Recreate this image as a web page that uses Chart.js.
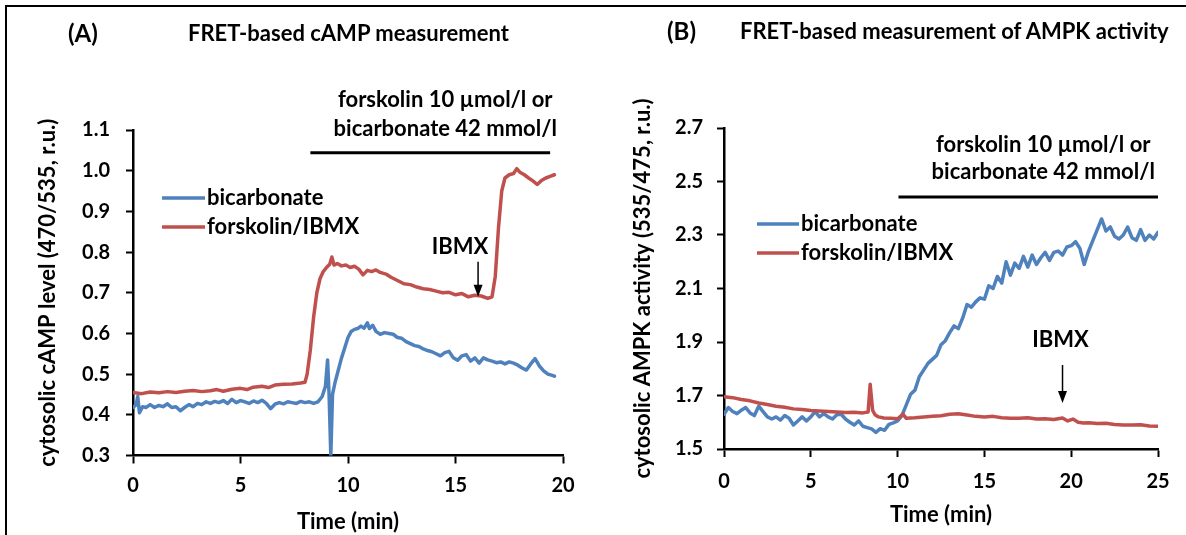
<!DOCTYPE html>
<html>
<head>
<meta charset="utf-8">
<title>FRET: cAMP and AMPK activity</title>
<script src="https://cdn.jsdelivr.net/npm/chart.js@4.4.1/dist/chart.umd.min.js"></script>
<style>
  html, body { margin: 0; padding: 0; background: #fff; }
  #page { position: relative; width: 1186px; height: 535px; overflow: hidden; font-family: Lato, sans-serif; color: #000; }
  .frame { position: absolute; left: 5px; top: 5px; right: -10px; bottom: -10px; border-left: 2.5px solid #000; border-top: 2.5px solid #000; }
  canvas { position: absolute; top: 0; }
  #chartA { left: 0; }
  #chartB { left: 600px; }
  .tag, .heading { position: absolute; font-weight: 700; white-space: nowrap; line-height: 1; }
  .tag { font-size: 24px; }
  .heading { font-size: 22px; }
</style>
</head>
<body>
<div id="page">
  <div class="frame"></div>
  <canvas id="chartA" width="600" height="535"></canvas>
  <canvas id="chartB" width="586" height="535"></canvas>
  <div class="tag" style="left:68px;top:21px">(A)</div>
  <div class="heading" style="left:188px;top:22px">FRET-based cAMP measurement</div>
  <div class="tag" style="left:667px;top:19px">(B)</div>
  <div class="heading" style="left:740px;top:20px">FRET-based measurement of AMPK activity</div>
</div>
<script>
// --- (A) cytosolic cAMP, 470/535 ratio ---
const timeA_bic = [
  0, 0.15, 0.22, 0.3, 0.45, 0.6, 0.8, 1.0, 1.2, 1.4,
  1.6, 1.8, 2.0, 2.2, 2.4, 2.6, 2.8, 3.0, 3.2, 3.4,
  3.6, 3.8, 4.0, 4.2, 4.4, 4.6, 4.8, 5.0, 5.2, 5.4,
  5.6, 5.8, 6.0, 6.2, 6.4, 6.6, 6.8, 7.0, 7.2, 7.4,
  7.6, 7.8, 8.0, 8.2, 8.4, 8.6, 8.8, 8.95, 9.05, 9.12,
  9.2, 9.28, 9.4, 9.55, 9.7, 9.85, 10.0, 10.15, 10.3, 10.45,
  10.6, 10.75, 10.9, 11.0, 11.15, 11.3, 11.5, 11.7, 11.9, 12.1,
  12.3, 12.5, 12.7, 12.9, 13.1, 13.3, 13.5, 13.7, 13.9, 14.1,
  14.3, 14.5, 14.7, 14.9, 15.1, 15.3, 15.5, 15.7, 15.9, 16.1,
  16.3, 16.5, 16.7, 16.9, 17.1, 17.3, 17.5, 17.7, 17.9, 18.1,
  18.3, 18.5, 18.7, 18.9, 19.1, 19.3, 19.5, 19.6
];
const cAMP_bic = [
  0.418, 0.425, 0.445, 0.405, 0.42, 0.418, 0.425, 0.418, 0.423, 0.42,
  0.427, 0.418, 0.42, 0.41, 0.418, 0.425, 0.42, 0.428, 0.425, 0.432,
  0.428, 0.433, 0.43, 0.435, 0.428, 0.438, 0.43, 0.435, 0.432, 0.428,
  0.434, 0.43, 0.436, 0.428, 0.415, 0.426, 0.43, 0.427, 0.432, 0.43,
  0.428, 0.433, 0.43, 0.432, 0.428, 0.432, 0.445, 0.47, 0.535, 0.45,
  0.3, 0.45, 0.48, 0.51, 0.54, 0.565, 0.59, 0.605, 0.61, 0.612,
  0.618, 0.613, 0.626, 0.612, 0.62, 0.605, 0.598, 0.602, 0.6, 0.598,
  0.59, 0.588, 0.58, 0.575, 0.57, 0.568, 0.562, 0.558, 0.555, 0.55,
  0.545, 0.553, 0.556, 0.54, 0.534, 0.545, 0.548, 0.532, 0.54, 0.527,
  0.54, 0.535, 0.532, 0.528, 0.53, 0.525, 0.53, 0.527, 0.522, 0.515,
  0.51, 0.525, 0.538, 0.52, 0.508, 0.5, 0.497, 0.495
];
const timeA_fsk = [
  0, 0.4, 0.8, 1.2, 1.6, 2.0, 2.4, 2.8, 3.2, 3.6,
  3.9, 4.2, 4.6, 5.0, 5.3, 5.6, 6.0, 6.3, 6.6, 7.0,
  7.4, 7.8, 8.0, 8.1, 8.25, 8.4, 8.55, 8.7, 8.85, 9.0,
  9.15, 9.25, 9.35, 9.5, 9.7, 9.9, 10.1, 10.3, 10.5, 10.7,
  10.9, 11.1, 11.3, 11.5, 11.8, 12.0, 12.3, 12.6, 12.9, 13.2,
  13.5, 13.8, 14.1, 14.4, 14.7, 15.0, 15.3, 15.6, 15.9, 16.2,
  16.5, 16.7, 16.85, 17.0, 17.15, 17.3, 17.5, 17.7, 17.85, 18.0,
  18.2, 18.4, 18.6, 18.8, 19.0, 19.2, 19.4, 19.6
];
const cAMP_fsk = [
  0.455, 0.452, 0.456, 0.454, 0.457, 0.455, 0.458, 0.46, 0.457, 0.459,
  0.462, 0.458, 0.463, 0.465, 0.462, 0.468, 0.47, 0.467, 0.473, 0.475,
  0.476, 0.478, 0.48, 0.5, 0.56, 0.64, 0.7, 0.735, 0.752, 0.762,
  0.77, 0.788, 0.768, 0.772, 0.766, 0.768, 0.762, 0.765, 0.758, 0.744,
  0.755, 0.752, 0.756, 0.75, 0.745, 0.738, 0.73, 0.722, 0.72, 0.714,
  0.71, 0.708, 0.704, 0.7, 0.701, 0.695, 0.698, 0.69, 0.694, 0.692,
  0.686, 0.69, 0.74, 0.86, 0.95, 0.982, 0.99, 0.993, 1.005, 0.996,
  0.99, 0.982, 0.975, 0.966, 0.976, 0.982, 0.986, 0.99
];

// --- (B) cytosolic AMPK activity, 535/475 ratio ---
const timeB_bic = [
  0, 0.25, 0.5, 0.75, 1, 1.25, 1.5, 1.75, 2, 2.25,
  2.5, 2.75, 3, 3.25, 3.5, 3.75, 4, 4.25, 4.5, 4.75,
  5, 5.25, 5.5, 5.75, 6, 6.25, 6.5, 6.75, 7, 7.25,
  7.5, 7.75, 8, 8.25, 8.5, 8.75, 9, 9.25, 9.5, 9.75,
  10, 10.25, 10.5, 10.75, 11, 11.25, 11.5, 11.75, 12, 12.25,
  12.5, 12.75, 13, 13.25, 13.5, 13.75, 14, 14.25, 14.5, 14.75,
  15, 15.25, 15.5, 15.75, 16, 16.25, 16.5, 16.75, 17, 17.25,
  17.5, 17.75, 18, 18.25, 18.5, 18.75, 19, 19.25, 19.5, 19.75,
  20, 20.25, 20.5, 20.75, 21, 21.25, 21.5, 21.75, 22, 22.25,
  22.5, 22.75, 23, 23.25, 23.5, 23.75, 24, 24.25, 24.5, 24.75,
  25
];
const ampk_bic = [
  1.63, 1.655, 1.64, 1.632, 1.645, 1.655, 1.635, 1.625, 1.66, 1.64,
  1.62, 1.612, 1.62, 1.608, 1.625, 1.615, 1.59, 1.605, 1.62, 1.605,
  1.62, 1.64, 1.62, 1.632, 1.62, 1.612, 1.628, 1.63, 1.612, 1.6,
  1.59, 1.605, 1.585, 1.58, 1.575, 1.562, 1.576, 1.57, 1.592, 1.598,
  1.605, 1.625, 1.665, 1.705, 1.72, 1.77, 1.795, 1.82, 1.835, 1.85,
  1.89, 1.905, 1.935, 1.96, 1.95, 1.99, 2.04, 2.03, 2.05, 2.065,
  2.06, 2.11, 2.1, 2.145, 2.12, 2.2, 2.15, 2.195, 2.175, 2.22,
  2.18, 2.225, 2.19, 2.215, 2.235, 2.205, 2.235, 2.24, 2.225, 2.255,
  2.26, 2.275, 2.25, 2.19, 2.24, 2.28, 2.32, 2.36, 2.315, 2.33,
  2.295, 2.285, 2.3, 2.33, 2.29, 2.28, 2.32, 2.28, 2.3, 2.285,
  2.31
];
const timeB_fsk = [
  0, 0.5, 1.0, 1.5, 2.0, 2.5, 3.0, 3.5, 4.0, 4.5,
  5.0, 5.5, 6.0, 6.5, 7.0, 7.5, 8.0, 8.3, 8.42, 8.48,
  8.56, 8.7, 8.9, 9.2, 9.6, 10.0, 10.3, 10.5, 11.0, 11.5,
  12.0, 12.5, 13.0, 13.5, 14.0, 14.5, 15.0, 15.5, 16.0, 16.5,
  17.0, 17.5, 18.0, 18.5, 19.0, 19.5, 19.8, 20.1, 20.4, 20.7,
  21.0, 21.5, 22.0, 22.5, 23.0, 23.5, 24.0, 24.5, 25.0
];
const ampk_fsk = [
  1.695, 1.692, 1.685, 1.68, 1.672, 1.666, 1.66, 1.656, 1.65, 1.648,
  1.644, 1.642, 1.64, 1.638, 1.636, 1.637, 1.635, 1.638, 1.742, 1.7,
  1.645, 1.628, 1.62, 1.616, 1.615, 1.613, 1.63, 1.615, 1.617, 1.62,
  1.622, 1.624, 1.63, 1.632, 1.627, 1.622, 1.62, 1.622, 1.617, 1.615,
  1.615, 1.617, 1.612, 1.613, 1.61, 1.616, 1.605, 1.612, 1.6, 1.597,
  1.598, 1.595, 1.596, 1.592, 1.59, 1.59, 1.591, 1.586, 1.585
];

const seriesLabels = ['bicarbonate', 'forskolin/IBMX'];
const treatmentLines = ['forskolin 10 \u00b5mol/l or', 'bicarbonate 42 mmol/l'];

const BLUE = '#4f81bd';
const RED = '#c0504d';
const TICK_FONT = { family: 'Lato', size: 20, weight: 'bold' };
const AXIS_FONT = { family: 'Lato', size: 22, weight: 'bold' };
const NOTE_FONT = 'bold 22px Lato';

const toPoints = (xs, ys) => xs.map((t, i) => ({ x: t, y: ys[i] }));

// treatment bar, IBMX arrow and the in-plot legend
const notesPlugin = {
  id: 'notes',
  afterDatasetsDraw(chart, args, opts) {
    const { ctx, chartArea: area, scales: { x, y } } = chart;
    ctx.save();
    ctx.fillStyle = '#000';
    ctx.strokeStyle = '#000';
    ctx.font = NOTE_FONT;
    ctx.textAlign = 'center';
    ctx.textBaseline = 'middle';

    const t = opts.treatment;
    const x1 = x.getPixelForValue(t.from);
    const x2 = x.getPixelForValue(t.to);
    const yb = y.getPixelForValue(t.level);
    ctx.lineWidth = 3;
    ctx.beginPath();
    ctx.moveTo(x1, yb);
    ctx.lineTo(x2, yb);
    ctx.stroke();
    treatmentLines.forEach((line, i) => {
      ctx.fillText(line, (x1 + x2) / 2 + t.textShift, yb + t.textOffsets[i]);
    });

    const a = opts.arrow;
    const ax = x.getPixelForValue(a.at);
    const yTop = y.getPixelForValue(a.from);
    const yTip = y.getPixelForValue(a.to);
    ctx.lineWidth = 1.5;
    ctx.beginPath();
    ctx.moveTo(ax, yTop);
    ctx.lineTo(ax, yTip - 8);
    ctx.stroke();
    ctx.beginPath();
    ctx.moveTo(ax - 4.5, yTip - 12);
    ctx.lineTo(ax + 4.5, yTip - 12);
    ctx.lineTo(ax, yTip);
    ctx.closePath();
    ctx.fill();
    ctx.fillText('IBMX', ax + a.labelDx, yTop + a.labelDy);

    const lg = opts.legend;
    ctx.textAlign = 'left';
    chart.data.datasets.forEach((ds, i) => {
      const ly = area.top + lg.top + i * lg.rowGap;
      const lx = area.left + lg.left;
      ctx.strokeStyle = ds.borderColor;
      ctx.lineWidth = 3.5;
      ctx.beginPath();
      ctx.moveTo(lx, ly);
      ctx.lineTo(lx + lg.swatch, ly);
      ctx.stroke();
      ctx.fillStyle = '#000';
      ctx.fillText(ds.label, lx + lg.swatch + 2, ly);
    });
    ctx.restore();
  }
};

function buildPanel(canvasId, p) {
  return new Chart(document.getElementById(canvasId), {
    type: 'line',
    data: {
      datasets: [
        { label: seriesLabels[0], data: toPoints(p.bicT, p.bicV), borderColor: BLUE, order: 1 },
        { label: seriesLabels[1], data: toPoints(p.fskT, p.fskV), borderColor: RED, order: 0 }
      ]
    },
    options: {
      responsive: false,
      animation: false,
      devicePixelRatio: 1,
      layout: { padding: p.padding },
      elements: {
        line: { borderWidth: 3.5, tension: 0, borderJoinStyle: 'round', borderCapStyle: 'round' },
        point: { radius: 0, hoverRadius: 0 }
      },
      plugins: {
        legend: { display: false },
        tooltip: { enabled: false },
        notes: p.notes
      },
      scales: {
        x: {
          type: 'linear', min: 0, max: p.xMax,
          ticks: { stepSize: 5, padding: p.xTickPad, color: '#000', font: TICK_FONT },
          grid: { drawOnChartArea: false, drawTicks: true, tickLength: 8, tickWidth: 2, tickColor: '#000' },
          border: { display: true, color: '#000', width: 2.5 },
          title: { display: true, text: 'Time (min)', color: '#000', font: AXIS_FONT, padding: { top: 0, bottom: p.xTitlePad } },
          afterFit: s => { s.height = p.xAxisHeight; }
        },
        y: {
          type: 'linear', min: p.yMin, max: p.yMax,
          ticks: { stepSize: p.yStep, padding: p.yTickPad, color: '#000', font: TICK_FONT, callback: v => v.toFixed(1) },
          grid: { drawOnChartArea: false, drawTicks: true, tickLength: 7, tickWidth: 2, tickColor: '#000' },
          border: { display: true, color: '#000', width: 2.5 },
          title: { display: true, text: p.yTitle, color: '#000', font: AXIS_FONT, padding: { top: 4, bottom: 0 } },
          afterFit: s => { s.width = p.yAxisWidth; }
        }
      }
    },
    plugins: [notesPlugin]
  });
}

function drawAll() {
  buildPanel('chartA', {
    bicT: timeA_bic, bicV: cAMP_bic, fskT: timeA_fsk, fskV: cAMP_fsk,
    xMax: 20, yMin: 0.3, yMax: 1.1, yStep: 0.1,
    yTitle: 'cytosolic cAMP level (470/535, r.u.)',
    padding: { left: 31, top: 130, right: 37, bottom: 0 },
    yAxisWidth: 102, xAxisHeight: 79.5, xTickPad: 10.5, yTickPad: 16, xTitlePad: 0,
    notes: {
      treatment: { from: 8.25, to: 19.4, level: 1.044, textShift: 15, textOffsets: [-53, -24] },
      arrow: { at: 16.05, from: 0.776, to: 0.69, labelDx: -18, labelDy: -15 },
      legend: { left: 29, top: 68, rowGap: 29, swatch: 43 }
    }
  });
  buildPanel('chartB', {
    bicT: timeB_bic, bicV: ampk_bic, fskT: timeB_fsk, fskV: ampk_fsk,
    xMax: 25, yMin: 1.5, yMax: 2.7, yStep: 0.2,
    yTitle: 'cytosolic AMPK activity (535/475, r.u.)',
    padding: { left: 26, top: 128, right: 28, bottom: 0 },
    yAxisWidth: 98, xAxisHeight: 86, xTickPad: 13, yTickPad: 14, xTitlePad: 6.8,
    notes: {
      treatment: { from: 10.05, to: 25, level: 2.442, textShift: 15, textOffsets: [-52, -25] },
      arrow: { at: 19.5, from: 1.814, to: 1.672, labelDx: -2, labelDy: -25 },
      legend: { left: 33, top: 96, rowGap: 29, swatch: 42 }
    }
  });
}

Promise.all([
  document.fonts.load('bold 22px Lato'),
  document.fonts.load('bold 20px Lato')
]).then(drawAll, drawAll);
</script>
</body>
</html>
